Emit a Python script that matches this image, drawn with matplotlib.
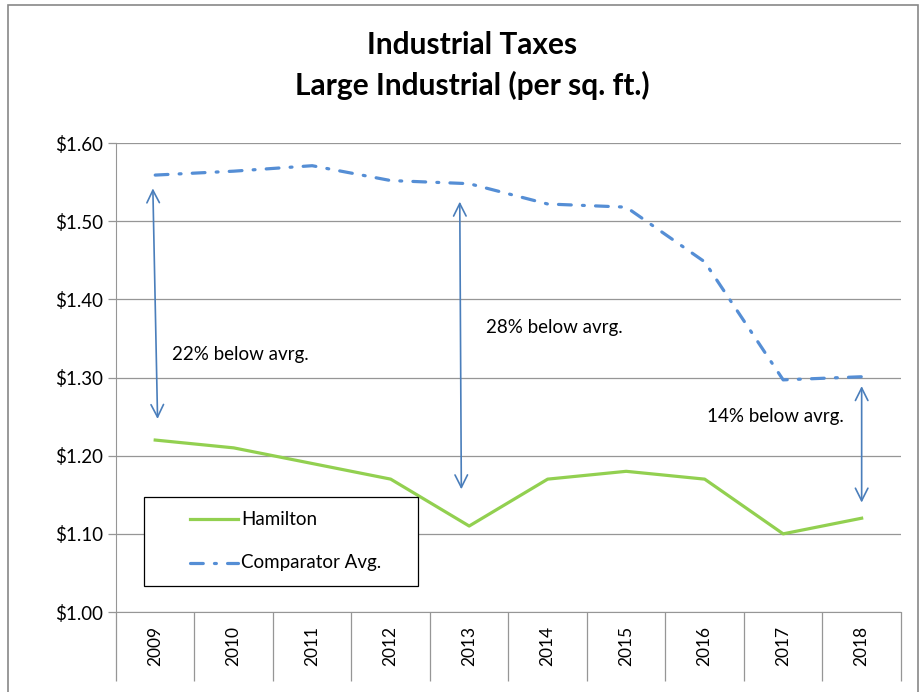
import matplotlib.pyplot as plt
from matplotlib.patches import Rectangle
from matplotlib.lines import Line2D
import numpy as np

plt.rcParams['font.family'] = ['Lato', 'DejaVu Sans']

years = ['2009', '2010', '2011', '2012', '2013', '2014', '2015', '2016', '2017', '2018']
hamilton = [1.22, 1.21, 1.19, 1.17, 1.11, 1.17, 1.18, 1.17, 1.10, 1.12]
comparator = [1.559, 1.564, 1.571, 1.552, 1.548, 1.522, 1.518, 1.448, 1.297, 1.301]

# arrows: (x start, y start, x end, y end) in category index / data units
arrows = [(-0.03, 1.542, 0.03, 1.247), (3.88, 1.525, 3.9, 1.157), (9.0, 1.289, 9.0, 1.14)]
notes = [(0.22, 1.33, '22% below avrg.'), (4.22, 1.364, '28% below avrg.'), (7.03, 1.25, '14% below avrg.')]

green = '#92D050'
blue = '#558ED5'
dashes = (0, (4, 3.5, 0.6, 3.5))

fig = plt.figure(figsize=(9.24, 6.92), dpi=100)
ax = fig.add_axes([0.1255, 0.1156, 0.8495, 0.6777])

x = np.arange(len(years))
ax.plot(x, hamilton, color=green, lw=2.3)
ax.plot(x, comparator, color=blue, lw=2.3, linestyle=dashes, dash_capstyle='round')

for x0, y0, x1, y1 in arrows:
    ax.annotate('', xy=(x0, y0), xytext=(x1, y1),
                arrowprops=dict(arrowstyle='<->,head_length=0.9,head_width=0.45',
                                color='#4A7EBB', lw=1.2, shrinkA=0, shrinkB=0))
for tx, ty, s in notes:
    ax.text(tx, ty, s, fontsize=13.5, va='center', ha='left')

ax.set_xlim(-0.5, 9.5)
ax.set_ylim(1.0, 1.6)
ax.set_yticks(np.arange(1.0, 1.61, 0.1))
ax.set_yticklabels(['$%.2f' % v for v in np.arange(1.0, 1.61, 0.1)], fontsize=13.5)
ax.grid(axis='y', color='#969696', lw=0.9)
ax.set_axisbelow(True)

ax.set_xticks(x)
ax.set_xticklabels(years, rotation=90, fontsize=12.5)
ax.set_xticks(np.arange(-0.5, 10, 1), minor=True)
ax.tick_params(axis='x', which='major', length=0, pad=10)
ax.tick_params(axis='x', which='minor', length=50, color='#969696', width=0.9)
ax.tick_params(axis='y', length=6, color='#969696', width=0.9)

for side in ['top', 'right']:
    ax.spines[side].set_visible(False)
ax.spines['left'].set_color('#969696')
ax.spines['bottom'].set_color('#969696')

# legend box, drawn by hand to match the spacing
ax.add_patch(Rectangle((0.0357, 0.0554), 0.349, 0.19, transform=ax.transAxes,
                       fill=True, facecolor='white', edgecolor='black', lw=0.9, zorder=5))
ax.add_line(Line2D([0.0943, 0.1554], [0.198, 0.198], transform=ax.transAxes,
                   color=green, lw=2.3, zorder=6))
ax.add_line(Line2D([0.0943, 0.1554], [0.1045, 0.1045], transform=ax.transAxes,
                   color=blue, lw=2.3, linestyle=dashes, dash_capstyle='round', zorder=6))
ax.text(0.159, 0.198, 'Hamilton', transform=ax.transAxes, fontsize=13.5, va='center', zorder=6)
ax.text(0.159, 0.1045, 'Comparator Avg.', transform=ax.transAxes, fontsize=13.5, va='center', zorder=6)

fig.text(0.511, 0.935, 'Industrial Taxes', ha='center', va='center', fontsize=21.5, fontweight='bold')
fig.text(0.511, 0.877, 'Large Industrial (per sq. ft.)', ha='center', va='center', fontsize=21.5, fontweight='bold')

fig.patches.append(Rectangle((0.009, -0.01), 0.985, 1.003, transform=fig.transFigure,
                             fill=False, edgecolor='#888888', lw=1.2))

fig.savefig('out.png', dpi=100)
